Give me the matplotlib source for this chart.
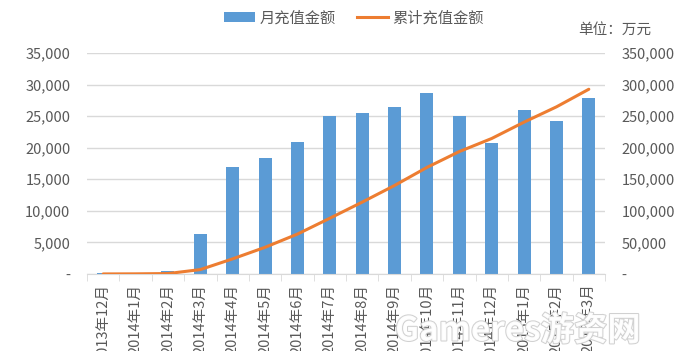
import matplotlib.pyplot as plt
from matplotlib.ticker import FuncFormatter, FixedLocator
from matplotlib.patches import Patch
from matplotlib.lines import Line2D
import matplotlib.patheffects as pe
import numpy as np

plt.rcParams['font.family'] = ['Noto Sans CJK SC', 'DejaVu Sans']

months = ['2013年12月', '2014年1月', '2014年2月', '2014年3月', '2014年4月', '2014年5月',
          '2014年6月', '2014年7月', '2014年8月', '2014年9月', '2014年10月', '2014年11月',
          '2014年12月', '2015年1月', '2015年2月', '2015年3月']
monthly = [100, 150, 450, 6300, 17000, 18300, 20900, 25100, 25500, 26400,
           28600, 25100, 20700, 25900, 24200, 27900]
cumulative = [100, 250, 700, 7000, 24000, 42300, 63200, 88300, 113800, 140200,
              168800, 193900, 214600, 240500, 264700, 292600]

blue = '#5B9BD5'
orange = '#ED7D31'
grey = '#595959'
grid = '#D9D9D9'

fig = plt.figure(figsize=(6.84, 3.51), dpi=100)
ax = fig.add_axes([87/684, 77/351, 518/684, 221/351])
ax2 = ax.twinx()

x = np.arange(len(months))
ax.bar(x, monthly, width=0.4, color=blue, zorder=2)
ax2.plot(x, cumulative, color=orange, lw=2.2, solid_capstyle='round', zorder=3)

ax.set_xlim(-0.5, len(months) - 0.5)
ax.set_ylim(0, 35000)
ax2.set_ylim(0, 350000)
ax.set_yticks(np.arange(0, 35001, 5000))
ax2.set_yticks(np.arange(0, 350001, 50000))

fmt = FuncFormatter(lambda v, p: '-' if v == 0 else f'{int(v):,}')
ax.yaxis.set_major_formatter(fmt)
ax2.yaxis.set_major_formatter(fmt)

ax.grid(axis='y', color=grid, lw=1, zorder=0)
ax.set_axisbelow(True)
for a in (ax, ax2):
    for s in ('top', 'left', 'right'):
        a.spines[s].set_visible(False)
    a.spines['bottom'].set_color(grid)
ax2.spines['bottom'].set_visible(False)

ax.tick_params(axis='y', length=0, pad=12, labelsize=10.5, labelcolor=grey)
ax2.tick_params(axis='y', length=0, pad=12, labelsize=10.5, labelcolor=grey)

ax.set_xticks(x)
ax.set_xticklabels(months, rotation=90, fontsize=10.5, color=grey, va='top', ha='center')
ax.tick_params(axis='x', length=0, pad=7)
ax.xaxis.set_minor_locator(FixedLocator(np.arange(-0.5, len(months), 1)))
ax.tick_params(axis='x', which='minor', length=5, color=grid)

handles = [Patch(facecolor=blue, edgecolor='none'),
           Line2D([0], [0], color=orange, lw=2.2)]
fig.legend(handles, ['月充值金额', '累计充值金额'], loc='center', bbox_to_anchor=(354/684, 1 - 18/351),
           ncol=2, frameon=False, fontsize=11, labelcolor=grey, handlelength=2.0,
           handleheight=0.6, columnspacing=1.4, handletextpad=0.3)

fig.text(578/684, 1 - 30/351, '单位：万元', fontsize=10.5, color=grey, va='center', ha='left')

# watermark
fig.text(518/684, 1 - 331/351, 'Gameres游资网', fontsize=24, color='white', alpha=0.95,
         ha='center', va='center', fontweight='bold', zorder=10,
         path_effects=[pe.withStroke(linewidth=1.5, foreground='#cfcfcf')])

fig.savefig('out.png', dpi=100)
